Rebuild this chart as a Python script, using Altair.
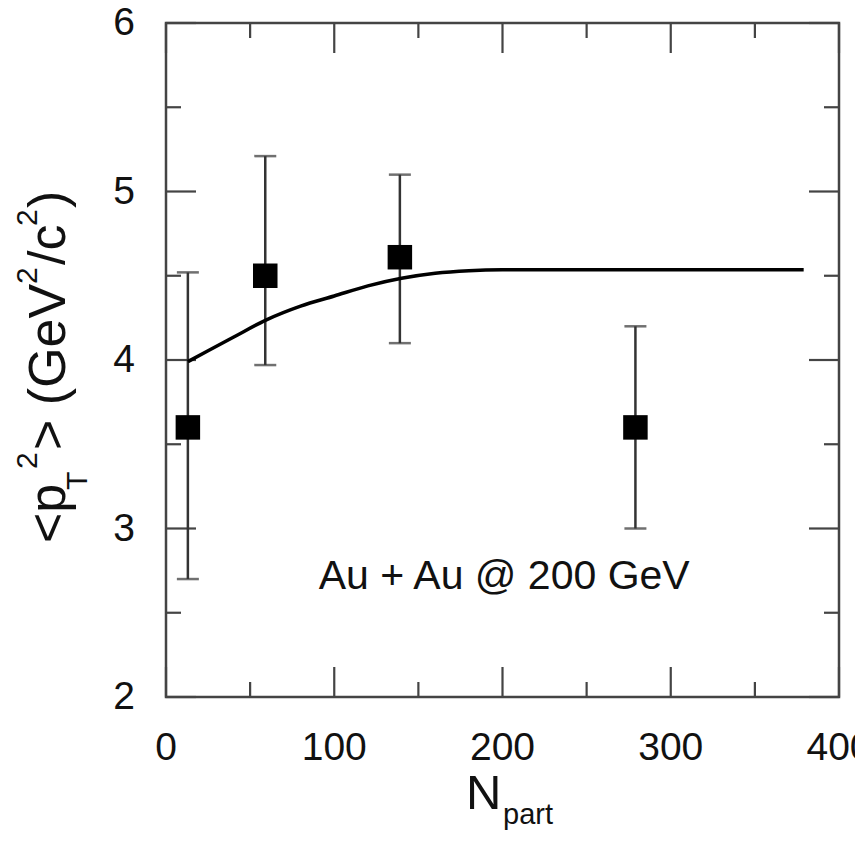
import altair as alt
import pandas as pd

# ---- data ----
npart = [13, 59, 139, 279]
pt2 = [3.60, 4.50, 4.61, 3.60]
err_lo = [2.70, 3.97, 4.10, 3.00]
err_hi = [4.52, 5.21, 5.10, 4.20]

curve_x = [13, 25, 40, 60, 80, 100, 120, 140, 160, 180, 200, 250, 300, 350, 379]
curve_y = [3.99, 4.055, 4.135, 4.24, 4.32, 4.38, 4.44, 4.485, 4.515, 4.53, 4.535, 4.535, 4.535, 4.535, 4.535]

x_major = [0, 100, 200, 300, 400]
x_minor = [50, 150, 250, 350]
y_major = [2, 3, 4, 5, 6]
y_minor = [2.5, 3.5, 4.5, 5.5]

ann_text = ["Au + Au @ 200 GeV"]
ann_x = [201]
ann_y = [2.64]

W, H = 673, 674
FONT = "Liberation Sans"
FRAME = "#444444"
TXT = "#111111"

xs = alt.Scale(domain=[0, 400], nice=False, zero=False)
ys = alt.Scale(domain=[2, 6], nice=False, zero=False)

pts = pd.DataFrame(dict(n=npart, v=pt2, lo=err_lo, hi=err_hi))
curve = pd.DataFrame(dict(n=curve_x, v=curve_y))


def X(f):
    return alt.X(f, scale=xs, axis=None)


def Y(f):
    return alt.Y(f, scale=ys, axis=None)


# tick labels drawn through the scales
xlab = alt.Chart(pd.DataFrame({"n": x_major, "t": [str(v) for v in x_major]})).mark_text(
    font=FONT, fontSize=39, color=TXT, align="center", baseline="top"
).encode(x=X("n:Q"), y=alt.value(H + 32), text="t:N")

ylab = alt.Chart(pd.DataFrame({"v": y_major, "t": [str(v) for v in y_major]})).mark_text(
    font=FONT, fontSize=39, color=TXT, align="right", baseline="middle"
).encode(y=Y("v:Q"), x=alt.value(-31), text="t:N")


def xticks(vals, length, top):
    df = pd.DataFrame({"n": vals})
    if top:
        yy, yy2 = alt.value(0), alt.value(length)
    else:
        yy, yy2 = alt.value(H), alt.value(H - length)
    return alt.Chart(df).mark_rule(color=FRAME, strokeWidth=2.2).encode(x=X("n:Q"), y=yy, y2=yy2)


def yticks(vals, length, right):
    df = pd.DataFrame({"v": vals})
    if right:
        xx, xx2 = alt.value(W), alt.value(W - length)
    else:
        xx, xx2 = alt.value(0), alt.value(length)
    return alt.Chart(df).mark_rule(color=FRAME, strokeWidth=2.2).encode(y=Y("v:Q"), x=xx, x2=xx2)


tick_layers = [
    xticks(x_major, 30, False), xticks(x_major, 30, True),
    xticks(x_minor, 15, False), xticks(x_minor, 15, True),
    yticks(y_major, 30, False), yticks(y_major, 30, True),
    yticks(y_minor, 15, False), yticks(y_minor, 15, True),
]

err_rule = alt.Chart(pts).mark_rule(color="#333333", strokeWidth=2.5).encode(
    x=X("n:Q"), y=Y("lo:Q"), y2="hi:Q")
cap_lo = alt.Chart(pts).mark_tick(orient="horizontal", size=22, thickness=2.5, color="#333333").encode(
    x=X("n:Q"), y=Y("lo:Q"))
cap_hi = alt.Chart(pts).mark_tick(orient="horizontal", size=22, thickness=2.5, color="#333333").encode(
    x=X("n:Q"), y=Y("hi:Q"))

squares = alt.Chart(pts).mark_square(size=600, filled=True, color="#000000", opacity=1).encode(
    x=X("n:Q"), y=Y("v:Q"))

line = alt.Chart(curve).mark_line(color="#000000", strokeWidth=3.5, interpolate="monotone").encode(
    x=X("n:Q"), y=Y("v:Q"))

ann = alt.Chart(pd.DataFrame(dict(t=ann_text, n=ann_x, v=ann_y))).mark_text(
    font=FONT, fontSize=41, color=TXT, align="center", baseline="alphabetic"
).encode(x=X("n:Q"), y=Y("v:Q"), text="t:N")

# plot origin on the page
OX, OY = 166, 23


def label_piece(text, size, px, py, angle=0):
    kw = dict(font=FONT, fontSize=size, color=TXT, align="left", baseline="alphabetic")
    if angle:
        kw["angle"] = angle
    return alt.Chart(pd.DataFrame({"t": [text]})).mark_text(**kw).encode(
        x=alt.value(px - OX), y=alt.value(py - OY), text="t:N")


ytitle = [
    label_piece("<p", 52, 65, 543, 270),
    label_piece("T", 30, 87, 490, 270),
    label_piece("2", 30, 37, 469, 270),
    label_piece("> (GeV", 52, 65, 450, 270),
    label_piece("2", 30, 37, 284, 270),
    label_piece("/c", 52, 65, 265, 270),
    label_piece("2", 30, 37, 226, 270),
    label_piece(")", 52, 65, 208, 270),
]
xtitle = [
    label_piece("N", 49, 466, 809),
    label_piece("part", 29, 503, 824),
]

chart = alt.layer(
    *tick_layers, err_rule, cap_lo, cap_hi, line, squares, ann, xlab, ylab, *ytitle, *xtitle
).properties(
    width=W, height=H,
    autosize=alt.AutoSizeParams(type="none"),
    padding={"left": 158, "top": 15, "right": 16, "bottom": 133},
    background="white",
).configure_view(stroke=FRAME, strokeWidth=2.5)

chart.save("out.html", embed_options={"renderer": "svg", "actions": False})
